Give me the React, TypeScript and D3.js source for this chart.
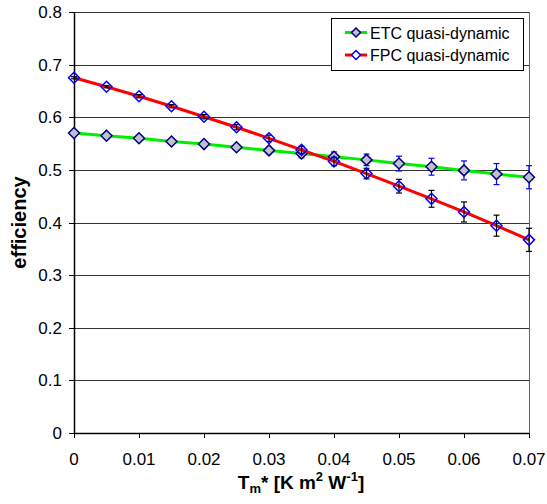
import React from "react";
import * as d3 from "d3";

const xValues = [0, 0.005, 0.01, 0.015, 0.02, 0.025, 0.03, 0.035, 0.04, 0.045, 0.05, 0.055, 0.06, 0.065, 0.07];
const etcValues = [0.57, 0.565, 0.56, 0.554, 0.549, 0.543, 0.537, 0.531, 0.525, 0.519, 0.512, 0.506, 0.499, 0.492, 0.486];
const etcErrors = [0.002, 0.002, 0.003, 0.003, 0.004, 0.005, 0.006, 0.008, 0.009, 0.011, 0.014, 0.016, 0.018, 0.02, 0.022];
const fpcValues = [0.675, 0.658, 0.64, 0.621, 0.601, 0.581, 0.56, 0.538, 0.516, 0.493, 0.469, 0.445, 0.42, 0.394, 0.367];
const fpcErrors = [0.002, 0.002, 0.003, 0.003, 0.004, 0.005, 0.006, 0.007, 0.008, 0.01, 0.013, 0.016, 0.019, 0.02, 0.022];
const xTicks = [0, 0.01, 0.02, 0.03, 0.04, 0.05, 0.06, 0.07];
const yTicks = [0, 0.1, 0.2, 0.3, 0.4, 0.5, 0.6, 0.7, 0.8];
const seriesNames = ["ETC quasi-dynamic", "FPC quasi-dynamic"];

const W = 547, H = 504;
const L = 74, R = 529, T = 12, B = 433;
const font = "'Liberation Sans', Arial, sans-serif";

export default function App() {
  const x = d3.scaleLinear().domain([0, 0.07]).range([L, R]);
  const y = d3.scaleLinear().domain([0, 0.8]).range([B, T]);
  const line = d3.line<[number, number]>().x(d => x(d[0])).y(d => y(d[1]));

  const series = [
    { name: seriesNames[0], vals: etcValues, errs: etcErrors, color: "#00ee00", errColor: "#0000ff", mStroke: "#000080", mFill: "#c0c0c8" },
    { name: seriesNames[1], vals: fpcValues, errs: fpcErrors, color: "#ff0000", errColor: "#000000", mStroke: "#0000ff", mFill: "none" },
  ];

  const diamond = (cx: number, cy: number, r = 5) =>
    `M${cx},${cy - r}L${cx + r},${cy}L${cx},${cy + r}L${cx - r},${cy}Z`;

  return (
    <svg width={W} height={H} style={{ position: "absolute", left: 0, top: 0, background: "#fff" }}>
      <rect x={0} y={0} width={W} height={H} fill="#fff" />
      {yTicks.filter(t => t > 0).map(t => (
        <line key={"g" + t} x1={L} x2={R} y1={Math.round(y(t)) + 0.5} y2={Math.round(y(t)) + 0.5} stroke="#333" strokeWidth={1} />
      ))}
      <line x1={R + 0.5} x2={R + 0.5} y1={T} y2={B} stroke="#666" strokeWidth={1} />
      <line x1={L + 0.5} x2={L + 0.5} y1={T} y2={B} stroke="#000" strokeWidth={1.5} />
      <line x1={L} x2={R} y1={B + 0.5} y2={B + 0.5} stroke="#000" strokeWidth={1.5} />
      {yTicks.map(t => (
        <g key={"yt" + t}>
          <line x1={L - 5} x2={L} y1={Math.round(y(t)) + 0.5} y2={Math.round(y(t)) + 0.5} stroke="#000" />
          <text x={62} y={y(t) + 6} textAnchor="end" fontFamily={font} fontSize={17}>{d3.format("")(t)}</text>
        </g>
      ))}
      {xTicks.map(t => (
        <g key={"xt" + t}>
          <line x1={Math.round(x(t)) + 0.5} x2={Math.round(x(t)) + 0.5} y1={B} y2={B + 5} stroke="#000" />
          <text x={x(t)} y={465} textAnchor="middle" fontFamily={font} fontSize={17}>{d3.format("")(t)}</text>
        </g>
      ))}
      {series.map(s => {
        const pts: [number, number][] = xValues.map((xv, i) => [xv, s.vals[i]]);
        return (
          <g key={s.name}>
            <path d={line(pts) || ""} fill="none" stroke={s.color} strokeWidth={3} />
            {pts.map((p, i) => {
              const cx = x(p[0]);
              const y1 = y(p[1] + s.errs[i]);
              const y2 = y(p[1] - s.errs[i]);
              return (
                <g key={i}>
                  <line x1={cx} x2={cx} y1={y1} y2={y2} stroke={s.errColor} strokeWidth={1.2} />
                  <line x1={cx - 3} x2={cx + 3} y1={y1} y2={y1} stroke={s.errColor} strokeWidth={1.2} />
                  <line x1={cx - 3} x2={cx + 3} y1={y2} y2={y2} stroke={s.errColor} strokeWidth={1.2} />
                  <path d={diamond(cx, y(p[1]), 5.5)} fill={s.mFill} stroke={s.mStroke} strokeWidth={1.5} />
                </g>
              );
            })}
          </g>
        );
      })}
      <rect x={331.5} y={18.5} width={192} height={52} fill="#fff" stroke="#000" strokeWidth={1} />
      {series.map((s, i) => {
        const cy = 32.5 + i * 22.5;
        return (
          <g key={"lg" + i}>
            <line x1={345} x2={367} y1={cy} y2={cy} stroke={s.color} strokeWidth={3} />
            <path d={diamond(356, cy, 4.5)} fill={s.mFill === "none" ? "#fff" : s.mFill} stroke={s.mStroke} strokeWidth={1.5} />
            <text x={370} y={cy + 6} fontFamily={font} fontSize={16}>{s.name}</text>
          </g>
        );
      })}
      <text transform={`translate(26,${(T + B) / 2}) rotate(-90)`} textAnchor="middle" fontFamily={font} fontSize={20} fontWeight="bold">efficiency</text>
      <text x={301} y={489} textAnchor="middle" fontFamily={font} fontSize={19} fontWeight="bold">
        T<tspan fontSize={13} dy={4}>m</tspan><tspan dy={-4}>* [K m</tspan><tspan fontSize={13} dy={-8}>2</tspan><tspan dy={8}> W</tspan><tspan fontSize={13} dy={-8}>-1</tspan><tspan dy={8}>]</tspan>
      </text>
    </svg>
  );
}
